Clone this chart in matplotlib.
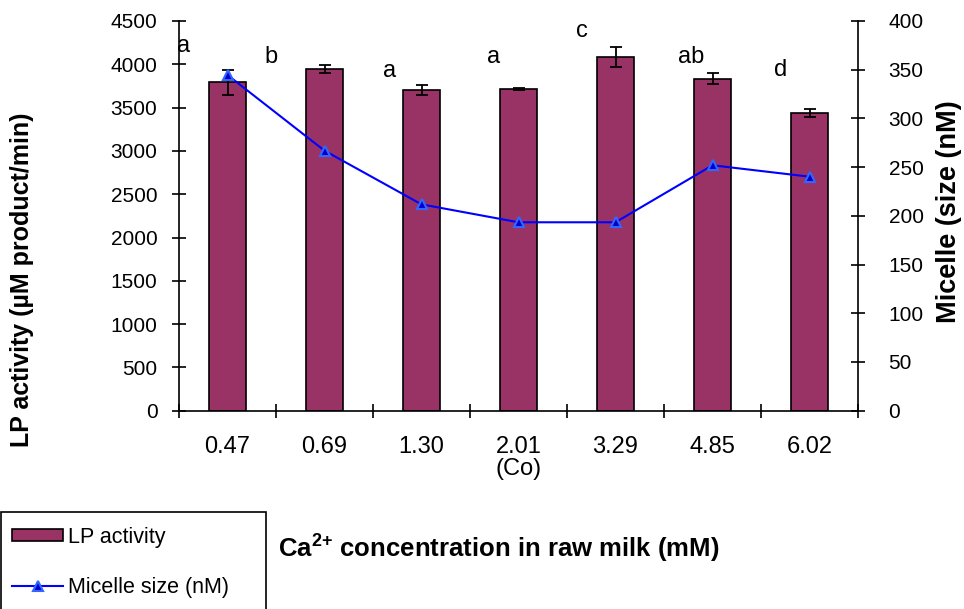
import matplotlib
matplotlib.use('Agg')
import matplotlib.pyplot as plt
from matplotlib.patches import Rectangle
import numpy as np

plt.rcParams['font.family'] = ['Liberation Sans', 'DejaVu Sans']
plt.rcParams['mathtext.fontset'] = 'custom'
plt.rcParams['mathtext.rm'] = 'Liberation Sans'
plt.rcParams['mathtext.bf'] = 'Liberation Sans:bold'

# ---- data ----
categories = ['0.47', '0.69', '1.30', '2.01\n(Co)', '3.29', '4.85', '6.02']
lp_activity = [3790, 3950, 3700, 3720, 4085, 3835, 3440]
lp_error = [140, 46, 58, 12, 117, 62, 46]
micelle_size = [344.6, 266.9, 211.8, 193.4, 193.4, 251.9, 240.2]
letters = ['a', 'b', 'a', 'a', 'c', 'ab', 'd']
letter_y = [4142, 4014, 3853, 4014, 4315, 4014, 3865]
letter_dx = [-0.448, -0.552, -0.33, -0.26, -0.35, -0.22, -0.30]

W, H = 964, 609
fig = plt.figure(figsize=(W / 100, H / 100), dpi=100)
ax = fig.add_axes([179 / W, 1 - 410.7 / H, 679 / W, 389.7 / H])

x = np.arange(len(categories))
bars = ax.bar(x, lp_activity, width=0.39, color='#993366', edgecolor='black',
              linewidth=1.2, yerr=lp_error, capsize=4.5,
              error_kw=dict(elinewidth=1.3, capthick=1.3, ecolor='black'),
              zorder=2)
ax.set_xlim(-0.5, len(categories) - 0.5)
ax.set_ylim(0, 4500)
ax.set_yticks(range(0, 4501, 500))
ax.set_xticks(x)
ax.set_xticklabels(categories, fontsize=17, linespacing=0.95)
ax.set_xticks(np.arange(-0.5, len(categories), 1), minor=True)
ax.tick_params(axis='x', which='major', length=0, pad=18.5)
ax.tick_params(axis='x', which='minor', direction='inout', length=10, width=1.2)
ax.tick_params(axis='y', direction='inout', length=10, width=1.2,
               labelsize=15, pad=10.5)
for s in ['top', 'right']:
    ax.spines[s].set_visible(False)
for s in ['left', 'bottom']:
    ax.spines[s].set_linewidth(1.2)

for i, (lt, ly, dx) in enumerate(zip(letters, letter_y, letter_dx)):
    ax.text(i + dx, ly, lt, ha='center', va='baseline', fontsize=17)

ax2 = ax.twinx()
line, = ax2.plot(x, micelle_size, color='#0000FF', lw=1.5, marker='^',
                 ms=7.5, mfc='#0000CC', mec='#3366FF', mew=1.5)
ax2.set_ylim(0, 400)
ax2.set_yticks(range(0, 401, 50))
ax2.tick_params(axis='y', direction='inout', length=10, width=1.2,
                labelsize=15, pad=17)
for s in ['top', 'left', 'bottom']:
    ax2.spines[s].set_visible(False)
ax2.spines['right'].set_linewidth(1.2)

fig.text(22 / W, 1 - 280 / H, 'LP activity (µM product/min)', rotation=90,
         ha='center', va='center', fontsize=18, weight='bold')
fig.text(949 / W, 1 - 212 / H, 'Micelle (size (nM)', rotation=90,
         ha='center', va='center', fontsize=19.5, weight='bold')

fig.text(278 / W, 1 - 557 / H,
         r'Ca$^{\mathbf{2}\mathbf{+}}$ concentration in raw milk (mM)',
         ha='left', va='baseline', fontsize=18.5, weight='bold')

fig.legend([bars, line], ['LP activity', 'Micelle size (nM)'],
           loc='center left', bbox_to_anchor=(11.7 / W, 1 - 562.5 / H),
           frameon=False, fontsize=15.5, handlelength=2.4, handleheight=0.5,
           handletextpad=0.2, labelspacing=1.35, borderpad=0,
           borderaxespad=0)
fig.patches.append(Rectangle((0.5 / W, -0.05), 265 / W, (1 - 511.7 / H) + 0.05,
                             transform=fig.transFigure, fill=False,
                             edgecolor='black', lw=1.2))

fig.savefig('out.png', dpi=100)
